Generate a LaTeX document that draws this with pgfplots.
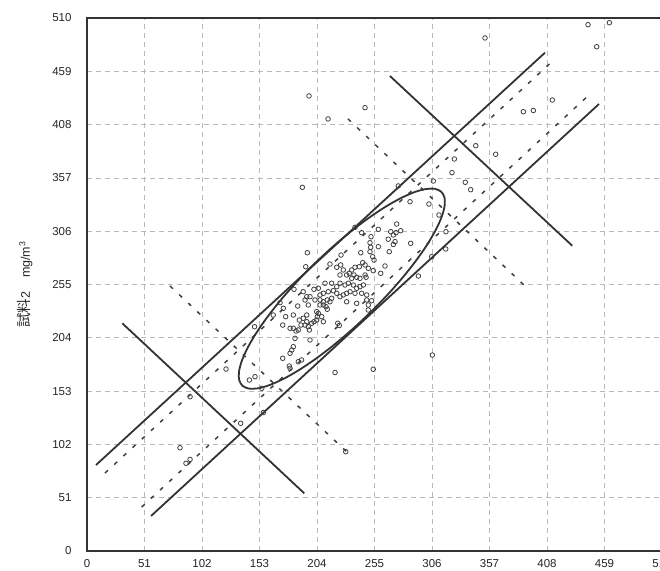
\documentclass[border=0pt]{standalone}
\usepackage{fontspec}
\setmainfont{Liberation Sans}
\newfontfamily\cjk{Noto Sans CJK JP}
\usepackage{pgfplots}
\pgfplotsset{compat=1.18}
\usepackage{pgfplotstable}

\pgfplotstableread{
x y
196.9 435.4
213.8 413.4
353.0 490.9
444.4 503.6
463.3 505.5
452.1 482.5
246.6 424.2
387.0 420.3
395.9 421.5
412.7 431.5
344.8 387.8
362.5 379.6
325.8 375.1
323.7 362.0
335.5 352.8
340.3 345.7
307.2 354.0
191.0 348.0
276.1 349.3
286.5 334.2
303.3 332.0
312.2 321.5
318.4 305.5
318.2 289.0
305.7 281.6
293.9 263.1
306.3 187.5
220.0 170.8
156.4 132.5
136.3 122.2
91.4 147.6
82.5 98.8
87.8 83.9
91.4 87.6
229.5 95.0
123.3 174.1
144.0 163.6
149.0 166.8
148.6 214.6
155.0 155.7
171.2 237.6
165.2 225.8
183.6 250.4
253.9 173.9
195.4 285.4
237.7 309.7
225.3 283.2
243.6 304.6
194.0 272.0
274.7 312.9
269.4 305.5
274.1 304.6
278.2 306.5
271.7 302.4
267.2 298.3
273.2 296.0
271.7 293.3
287.1 294.4
268.1 286.4
258.4 307.8
251.9 300.7
251.0 295.0
251.6 290.6
251.0 286.4
253.4 281.6
254.6 278.4
258.4 291.2
242.8 285.4
244.5 275.9
241.5 272.0
237.7 271.5
234.8 268.9
232.6 265.7
236.8 264.1
239.2 261.9
242.1 260.9
225.0 273.7
227.3 268.9
221.5 271.5
253.9 268.2
260.5 265.7
264.3 272.7
247.5 261.9
215.5 274.6
246.6 273.7
230.3 264.1
234.8 260.9
246.6 264.1
249.5 270.5
211.1 256.2
217.0 256.2
221.5 252.9
224.4 256.2
228.8 254.5
231.8 256.2
236.2 254.5
239.2 251.4
242.1 252.9
245.1 254.5
201.3 250.4
205.2 251.4
206.7 245.0
209.6 246.6
214.0 248.1
218.5 249.1
221.5 246.6
224.4 243.3
227.3 245.0
230.3 246.6
233.3 248.1
237.7 246.6
243.6 246.6
248.1 245.0
191.8 248.1
194.9 243.3
193.4 240.2
202.2 240.2
206.7 240.2
209.6 238.5
213.1 240.2
215.5 238.5
212.0 233.8
213.1 231.3
209.6 235.4
206.7 235.4
186.9 234.4
196.3 235.4
230.3 238.5
239.2 237.0
248.1 240.2
249.5 235.4
205.2 227.4
204.3 224.2
203.7 221.0
201.3 219.4
199.3 217.9
194.9 219.4
191.8 222.7
188.3 221.0
189.8 216.2
193.4 216.2
196.3 214.6
197.2 211.5
187.4 211.5
183.0 213.1
180.1 213.1
173.6 216.2
209.6 219.4
208.2 224.2
222.4 217.9
223.8 215.8
174.1 232.2
183.0 225.8
197.8 201.9
184.5 203.5
183.0 195.5
181.6 192.3
180.1 189.2
173.6 184.4
187.4 181.1
190.3 182.8
179.4 177.0
180.1 174.8
176.2 224.2
185.4 210.5
249.5 230.6
252.5 239.5
217.0 241.8
197.8 243.3
194.9 225.8
203.7 229.0
224.4 264.1
}\pts

\pgfplotstableread{
x y
314.06 343.93
308.44 346.58
300.31 346.33
289.92 343.18
277.59 337.22
263.70 328.66
248.66 317.73
232.93 304.76
216.98 290.16
201.32 274.39
186.40 257.90
172.69 241.20
160.60 224.79
150.48 209.18
142.69 194.86
137.40 182.22
134.81 171.67
135.00 163.54
137.94 158.07
143.56 155.42
151.69 155.67
162.08 158.82
174.41 164.78
188.30 173.34
203.34 184.27
219.07 197.24
235.02 211.84
250.68 227.61
265.60 244.10
279.31 260.80
291.40 277.21
301.52 292.82
309.31 307.14
314.60 319.78
317.19 330.33
317.00 338.46
314.06 343.93
308.44 346.58
300.31 346.33
}\ell

\begin{document}
\begin{tikzpicture}
\useasboundingbox (-87pt,-19pt) rectangle (573pt,551pt);
\clip (-87pt,-19pt) rectangle (573pt,551pt);
\begin{axis}[
  at={(0pt,0pt)}, anchor=south west,
  width=575pt, height=533pt, scale only axis,
  xmin=0, xmax=510, ymin=0, ymax=510,
  xtick={0,51,102,153,204,255,306,357,408,459,510},
  ytick={0,51,102,153,204,255,306,357,408,459,510},
  grid=major,
  grid style={gray!55, line width=0.7pt, dash pattern=on 5pt off 4pt},
  axis line style={line width=1.4pt, black!80},
  major tick length=0pt,
  /pgf/number format/assume math mode=true,
  tick label style={font=\fontsize{11.5}{13}\selectfont, text=black!85},
  xticklabel style={yshift=-5pt},
  yticklabel style={xshift=-12pt},
  ylabel={{\cjk\fontsize{14.5}{16}\selectfont 試料}2\hspace{1.1em}mg/m\textsuperscript{3}},
  every axis y label/.style={at={(axis description cs:-0.1078,0.5)}, anchor=center, rotate=90, font=\fontsize{12.5}{14}\selectfont, text=black!85},
]
\addplot[line width=1.8pt, black!80] coordinates {(7.98,82.29) (406.2,476.8)};
\addplot[line width=1.8pt, black!80] coordinates {(56.8,33.5) (454.1,427.7)};
\addplot[line width=1.8pt, black!80] coordinates {(31.3,217.9) (192.7,55.2)};
\addplot[line width=1.8pt, black!80] coordinates {(268.7,454.5) (430.4,292.1)};
\addplot[line width=1.5pt, black!75, dash pattern=on 4pt off 8.5pt] coordinates {(15.97,74.63) (412.4,468.2)};
\addplot[line width=1.5pt, black!75, dash pattern=on 4pt off 8.5pt] coordinates {(48.5,42.1) (444.6,435.7)};
\addplot[line width=1.5pt, black!75, dash pattern=on 4pt off 8.5pt] coordinates {(73.6,253.6) (230.3,95.0)};
\addplot[line width=1.5pt, black!75, dash pattern=on 4pt off 8.5pt] coordinates {(231.5,413.4) (390.3,251.7)};
\addplot[line width=1.8pt, black!80, smooth] table {\ell};
\addplot[only marks, mark=o, mark size=2.3pt, mark options={line width=0.8pt, draw=black!75}] table {\pts};
\end{axis}
\end{tikzpicture}
\end{document}
